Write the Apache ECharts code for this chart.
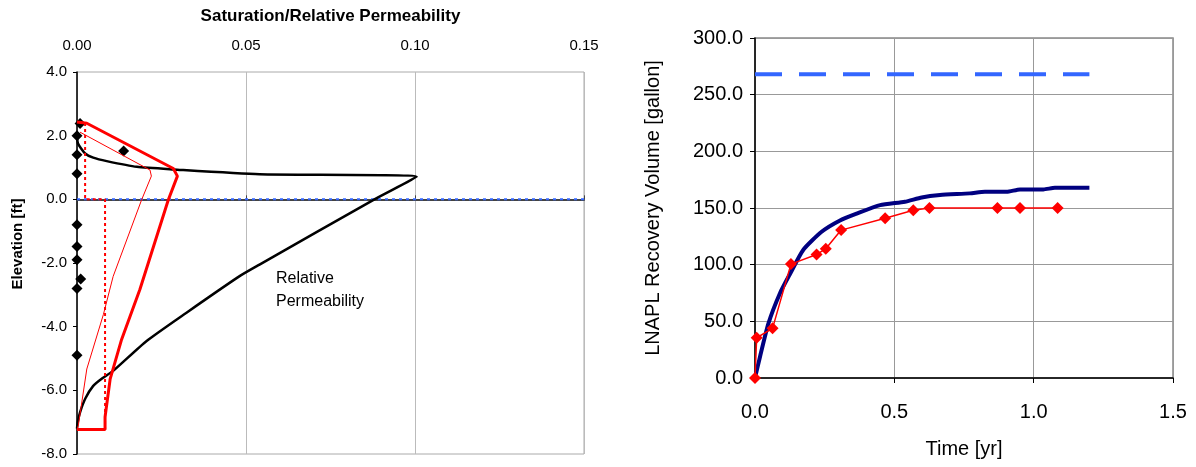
<!DOCTYPE html>
<html>
<head>
    <meta charset="utf-8">
    <title>LNAPL</title>
    <style type="text/css">
        html, body { margin: 0; padding: 0; background: #fff; }
        #chart { width: 1196px; height: 467px; }
    </style>
</head>
<body>
    <div id="chart"></div>
    <script src="https://cdn.jsdelivr.net/npm/echarts@6/dist/echarts.min.js"></script>
    <script type="text/javascript">
        // left panel: saturation / relative permeability vs elevation
        var diamondSat  = [0.0009, 0, 0, 0, 0.0138, 0, 0, 0, 0.0011, 0, 0];
        var diamondElev = [2.38, 2.0, 1.4, 0.8, 1.52, -0.8, -1.48, -1.9, -2.5, -2.8, -4.9];

        var relPermK    = [0, 0.0003, 0.0024, 0.0048, 0.0088, 0.0177, 0.0285, 0.054, 0.1005, 0.088, 0.054, 0.048, 0.0324, 0.0206, 0.0107, 0.0075, 0.0048, 0.0025, 0.0009, 0.0002, 0];
        var relPermElev = [2.0, 1.75, 1.44, 1.31, 1.2, 1.02, 0.94, 0.79, 0.71, 0, -2.05, -2.42, -3.56, -4.45, -5.39, -5.62, -5.86, -6.25, -6.69, -7.0, -7.2];

        var satThick     = [0, 0.0029, 0.0285, 0.0297, 0.027, 0.0186, 0.0132, 0.0098, 0.0083, 0.0083, 0];
        var satThickElev = [2.43, 2.39, 0.97, 0.73, -0.02, -2.83, -4.4, -5.65, -6.84, -7.23, -7.23];

        var satThin     = [0.0009, 0.0216, 0.022, 0.0191, 0.0107, 0.0078, 0.0029, 0.0004, 0];
        var satThinElev = [2.11, 0.92, 0.73, -0.02, -2.42, -3.62, -5.33, -7.1, -7.23];

        var satDot     = [0.0024, 0.0024, 0.0083, 0.0083, 0];
        var satDotElev = [2.4, 0, 0, -7.23, -7.23];

        var waterSat  = [0, 0.15];
        var waterElev = [0, 0];

        // right panel: recovery volume vs time
        var modelTime = [0, 0.018, 0.048, 0.09, 0.126, 0.173, 0.239, 0.305, 0.365, 0.449, 0.538, 0.598, 0.664, 0.771, 0.825, 0.903, 0.951, 1.035, 1.076, 1.2];
        var modelVol  = [0, 18.8, 48, 75, 92, 113, 129, 139, 145, 152.5, 155.5, 159.3, 161.4, 162.9, 164.3, 164.3, 166.4, 166.4, 167.8, 167.8];

        var fieldTime = [0, 0.006, 0.063, 0.129, 0.221, 0.254, 0.309, 0.467, 0.568, 0.626, 0.87, 0.951, 1.086];
        var fieldVol  = [0, 35.5, 43.8, 100.5, 109, 114, 130.5, 141, 148, 150, 150, 150, 150];

        var totalTime = [0, 1.2];
        var totalVol  = [268, 268];

        function pairs(xs, ys) {
            var out = [];
            for (var i = 0; i < xs.length; i++) out.push([xs[i], ys[i]]);
            return out;
        }

        var font = 'Liberation Sans, Arial, sans-serif';

        var chart = echarts.init(document.getElementById('chart'));
        var chartOption = {
            animation: false,
            textStyle: { fontFamily: font },
            grid: [
                { left: 77, top: 72, width: 507, height: 382, show: true, borderColor: '#aaa', borderWidth: 1 },
                { left: 755, top: 38, width: 418, height: 340, show: true, borderColor: '#888', borderWidth: 1.5 }
            ],
            xAxis: [
                {
                    gridIndex: 0, type: 'value', position: 'top',
                    min: 0, max: 0.15, interval: 0.05,
                    name: 'Saturation/Relative Permeability',
                    nameLocation: 'middle', nameGap: 47,
                    nameTextStyle: { fontSize: 17, fontWeight: 'bold', color: '#000' },
                    axisLine: { lineStyle: { color: '#444', width: 2 } },
                    axisTick: { show: true, length: 4, lineStyle: { color: '#444' } },
                    axisLabel: { fontSize: 15, color: '#000', margin: 19, formatter: function (v) { return v.toFixed(2); } },
                    splitLine: { show: true, lineStyle: { color: '#bbb', width: 1 } }
                },
                {
                    gridIndex: 1, type: 'value',
                    min: 0, max: 1.5, interval: 0.5,
                    name: 'Time [yr]',
                    nameLocation: 'middle', nameGap: 61,
                    nameTextStyle: { fontSize: 20, color: '#000' },
                    axisLine: { lineStyle: { color: '#000', width: 1.5 } },
                    axisTick: { show: true, length: 5, lineStyle: { color: '#000' } },
                    axisLabel: { fontSize: 20, color: '#000', margin: 24, formatter: function (v) { return v.toFixed(1); } },
                    splitLine: { show: true, lineStyle: { color: '#999', width: 1 } }
                }
            ],
            yAxis: [
                {
                    gridIndex: 0, type: 'value',
                    min: -8, max: 4, interval: 2,
                    axisLine: { show: true, onZero: false, lineStyle: { color: '#000', width: 1.5 } },
                    axisTick: { show: true, length: 4, lineStyle: { color: '#000' } },
                    axisLabel: { fontSize: 15, color: '#000', margin: 10, formatter: function (v) { return v.toFixed(1); } },
                    splitLine: { show: false }
                },
                {
                    gridIndex: 1, type: 'value',
                    min: 0, max: 300, interval: 50,
                    name: 'LNAPL Recovery Volume [gallon]',
                    nameLocation: 'middle', nameGap: 92,
                    nameTextStyle: { fontSize: 20, color: '#000' },
                    axisLine: { show: true, lineStyle: { color: '#000', width: 1.5 } },
                    axisTick: { show: true, length: 5, lineStyle: { color: '#000' } },
                    axisLabel: { fontSize: 20, color: '#000', margin: 12, formatter: function (v) { return v.toFixed(1); } },
                    splitLine: { show: true, lineStyle: { color: '#999', width: 1 } }
                }
            ],
            graphic: [
                {
                    type: 'text', x: 18, y: 244, rotation: Math.PI / 2,
                    style: { text: 'Elevation [ft]', font: 'bold 15px ' + font, fill: '#000', align: 'center', verticalAlign: 'middle' }
                },
                {
                    type: 'text', left: 276, top: 267,
                    style: { text: 'Relative\nPermeability', font: '16px ' + font, fill: '#000', lineHeight: 23 }
                }
            ],
            series: [
                {
                    name: 'water table', type: 'line', xAxisIndex: 0, yAxisIndex: 0,
                    data: pairs(waterSat, waterElev), showSymbol: false,
                    lineStyle: { color: '#3366ff', width: 2, type: [3, 4] }
                },
                {
                    name: 'relative permeability', type: 'line', xAxisIndex: 0, yAxisIndex: 0,
                    data: pairs(relPermK, relPermElev), showSymbol: false, smooth: 0.2,
                    lineStyle: { color: '#000', width: 2.5 }
                },
                {
                    name: 'saturation thin', type: 'line', xAxisIndex: 0, yAxisIndex: 0,
                    data: pairs(satThin, satThinElev), showSymbol: false,
                    lineStyle: { color: '#ff0000', width: 1 }
                },
                {
                    name: 'saturation thick', type: 'line', xAxisIndex: 0, yAxisIndex: 0,
                    data: pairs(satThick, satThickElev), showSymbol: false,
                    lineStyle: { color: '#ff0000', width: 3 }
                },
                {
                    name: 'saturation dotted', type: 'line', xAxisIndex: 0, yAxisIndex: 0,
                    data: pairs(satDot, satDotElev), showSymbol: false,
                    lineStyle: { color: '#ff0000', width: 2, type: [3, 3] }
                },
                {
                    name: 'soil cores', type: 'scatter', xAxisIndex: 0, yAxisIndex: 0,
                    data: pairs(diamondSat, diamondElev), symbol: 'diamond', symbolSize: 11,
                    itemStyle: { color: '#000', opacity: 1 }
                },
                {
                    name: 'total volume', type: 'line', xAxisIndex: 1, yAxisIndex: 1,
                    data: pairs(totalTime, totalVol), showSymbol: false,
                    lineStyle: { color: '#3366ff', width: 4, type: [27, 17] }
                },
                {
                    name: 'model', type: 'line', xAxisIndex: 1, yAxisIndex: 1,
                    data: pairs(modelTime, modelVol), showSymbol: false, smooth: 0.2,
                    lineStyle: { color: '#000080', width: 4 }
                },
                {
                    name: 'field', type: 'line', xAxisIndex: 1, yAxisIndex: 1,
                    data: pairs(fieldTime, fieldVol), symbol: 'diamond', symbolSize: 12,
                    lineStyle: { color: '#ff0000', width: 1.5 },
                    itemStyle: { color: '#ff0000' }
                }
            ]
        };
        chart.setOption(chartOption);
    </script>
</body>
</html>
